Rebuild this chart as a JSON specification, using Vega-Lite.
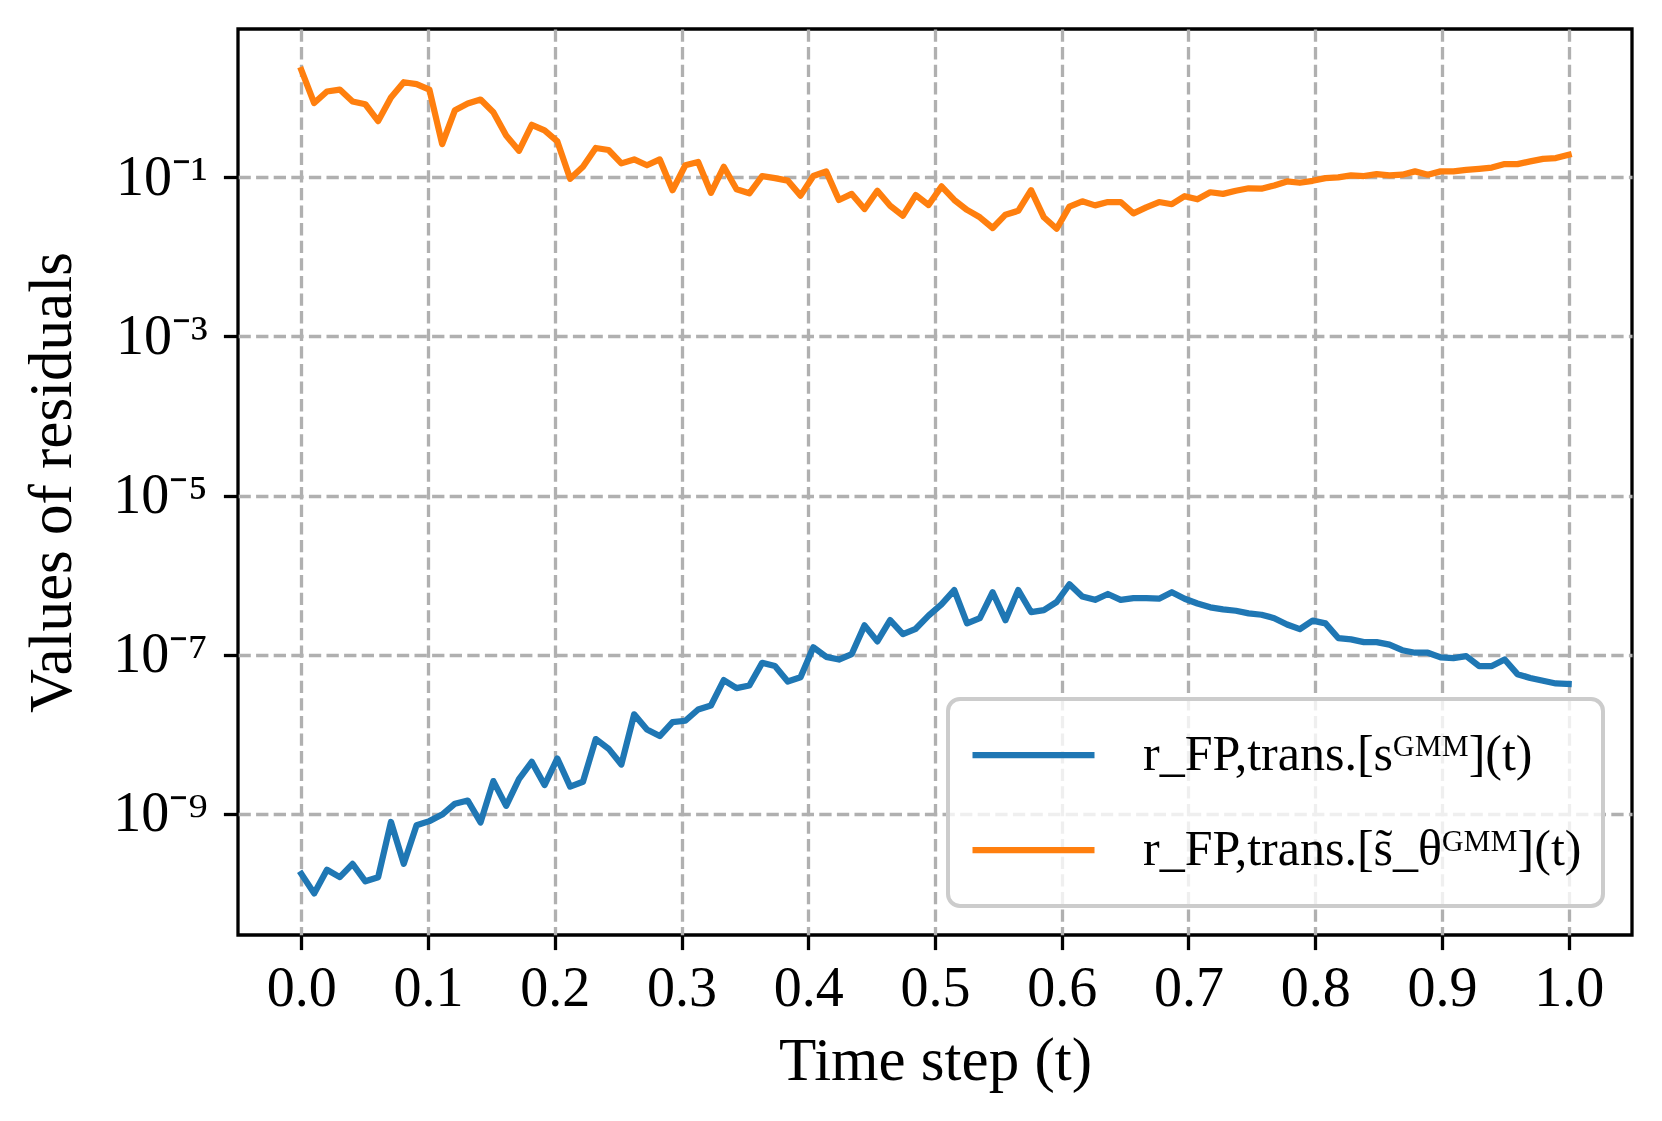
{
  "$schema": "https://vega.github.io/schema/vega-lite/v6.json",
  "width": 1394,
  "height": 906,
  "autosize": {"type": "none"},
  "padding": {"left": 238, "top": 29, "right": 30, "bottom": 186},
  "background": "white",
  "config": {
    "view": {"stroke": "black", "strokeWidth": 3.3},
    "font": "Liberation Serif",
    "axis": {
      "labelFont": "Liberation Serif",
      "labelFontSize": 56,
      "labelColor": "black",
      "labelOverlap": false,
      "titleFont": "Liberation Serif",
      "titleFontSize": 61,
      "titleFontWeight": "normal",
      "titleColor": "black",
      "tickColor": "black",
      "tickWidth": 3.3,
      "tickSize": 14.6,
      "domain": false,
      "gridColor": "#b0b0b0",
      "gridWidth": 3.3,
      "gridDash": [12.3, 5.3],
      "gridOpacity": 1
    }
  },
  "data": {
    "values": [
      {"t": 0.0, "s": 1.76e-10, "s_theta": 2.23},
      {"t": 0.0101, "s": 1.0e-10, "s_theta": 0.86},
      {"t": 0.0202, "s": 1.98e-10, "s_theta": 1.2},
      {"t": 0.0303, "s": 1.6e-10, "s_theta": 1.27},
      {"t": 0.0404, "s": 2.35e-10, "s_theta": 0.9},
      {"t": 0.0505, "s": 1.42e-10, "s_theta": 0.83},
      {"t": 0.0606, "s": 1.6e-10, "s_theta": 0.51},
      {"t": 0.0707, "s": 7.9e-10, "s_theta": 1.01},
      {"t": 0.0808, "s": 2.35e-10, "s_theta": 1.57},
      {"t": 0.0909, "s": 7.2e-10, "s_theta": 1.49},
      {"t": 0.101, "s": 8.1e-10, "s_theta": 1.27},
      {"t": 0.1111, "s": 9.8e-10, "s_theta": 0.262},
      {"t": 0.1212, "s": 1.34e-9, "s_theta": 0.7},
      {"t": 0.1313, "s": 1.47e-9, "s_theta": 0.85},
      {"t": 0.1414, "s": 7.8e-10, "s_theta": 0.95},
      {"t": 0.1515, "s": 2.58e-9, "s_theta": 0.66},
      {"t": 0.1616, "s": 1.26e-9, "s_theta": 0.336},
      {"t": 0.1717, "s": 2.73e-9, "s_theta": 0.216},
      {"t": 0.1818, "s": 4.5e-9, "s_theta": 0.458},
      {"t": 0.1919, "s": 2.3e-9, "s_theta": 0.39},
      {"t": 0.202, "s": 4.97e-9, "s_theta": 0.283},
      {"t": 0.2121, "s": 2.2e-9, "s_theta": 0.096},
      {"t": 0.2222, "s": 2.53e-9, "s_theta": 0.136},
      {"t": 0.2323, "s": 8.7e-9, "s_theta": 0.234},
      {"t": 0.2424, "s": 6.6e-9, "s_theta": 0.221},
      {"t": 0.2525, "s": 4.17e-9, "s_theta": 0.15},
      {"t": 0.2626, "s": 1.78e-8, "s_theta": 0.168},
      {"t": 0.2727, "s": 1.15e-8, "s_theta": 0.142},
      {"t": 0.2828, "s": 9.5e-9, "s_theta": 0.168},
      {"t": 0.2929, "s": 1.42e-8, "s_theta": 0.069},
      {"t": 0.303, "s": 1.48e-8, "s_theta": 0.142},
      {"t": 0.3131, "s": 2.05e-8, "s_theta": 0.156},
      {"t": 0.3232, "s": 2.3e-8, "s_theta": 0.064},
      {"t": 0.3333, "s": 4.8e-8, "s_theta": 0.136},
      {"t": 0.3434, "s": 3.8e-8, "s_theta": 0.071},
      {"t": 0.3535, "s": 4.1e-8, "s_theta": 0.063},
      {"t": 0.3636, "s": 7.9e-8, "s_theta": 0.104},
      {"t": 0.3737, "s": 7.2e-8, "s_theta": 0.098},
      {"t": 0.3838, "s": 4.6e-8, "s_theta": 0.091},
      {"t": 0.3939, "s": 5.2e-8, "s_theta": 0.059},
      {"t": 0.404, "s": 1.24e-7, "s_theta": 0.104},
      {"t": 0.4141, "s": 9.4e-8, "s_theta": 0.119},
      {"t": 0.4242, "s": 8.7e-8, "s_theta": 0.052},
      {"t": 0.4343, "s": 1.02e-7, "s_theta": 0.062},
      {"t": 0.4444, "s": 2.34e-7, "s_theta": 0.04},
      {"t": 0.4545, "s": 1.47e-7, "s_theta": 0.068},
      {"t": 0.4646, "s": 2.72e-7, "s_theta": 0.044},
      {"t": 0.4747, "s": 1.82e-7, "s_theta": 0.033},
      {"t": 0.4848, "s": 2.12e-7, "s_theta": 0.06},
      {"t": 0.4949, "s": 3.1e-7, "s_theta": 0.045},
      {"t": 0.5051, "s": 4.3e-7, "s_theta": 0.077},
      {"t": 0.5152, "s": 6.5e-7, "s_theta": 0.052},
      {"t": 0.5253, "s": 2.48e-7, "s_theta": 0.039},
      {"t": 0.5354, "s": 2.88e-7, "s_theta": 0.0315},
      {"t": 0.5455, "s": 6.1e-7, "s_theta": 0.0231},
      {"t": 0.5556, "s": 2.72e-7, "s_theta": 0.034},
      {"t": 0.5657, "s": 6.5e-7, "s_theta": 0.038},
      {"t": 0.5758, "s": 3.44e-7, "s_theta": 0.069},
      {"t": 0.5859, "s": 3.64e-7, "s_theta": 0.0315},
      {"t": 0.596, "s": 4.6e-7, "s_theta": 0.0226},
      {"t": 0.6061, "s": 7.7e-7, "s_theta": 0.043},
      {"t": 0.6162, "s": 5.4e-7, "s_theta": 0.05},
      {"t": 0.6263, "s": 4.9e-7, "s_theta": 0.0445},
      {"t": 0.6364, "s": 5.8e-7, "s_theta": 0.049},
      {"t": 0.6465, "s": 4.9e-7, "s_theta": 0.049},
      {"t": 0.6566, "s": 5.15e-7, "s_theta": 0.0353},
      {"t": 0.6667, "s": 5.15e-7, "s_theta": 0.042},
      {"t": 0.6768, "s": 5.06e-7, "s_theta": 0.049},
      {"t": 0.6869, "s": 6.1e-7, "s_theta": 0.046},
      {"t": 0.697, "s": 5.06e-7, "s_theta": 0.058},
      {"t": 0.7071, "s": 4.4e-7, "s_theta": 0.053},
      {"t": 0.7172, "s": 3.94e-7, "s_theta": 0.065},
      {"t": 0.7273, "s": 3.72e-7, "s_theta": 0.062},
      {"t": 0.7374, "s": 3.57e-7, "s_theta": 0.068},
      {"t": 0.7475, "s": 3.31e-7, "s_theta": 0.073},
      {"t": 0.7576, "s": 3.18e-7, "s_theta": 0.072},
      {"t": 0.7677, "s": 2.88e-7, "s_theta": 0.079},
      {"t": 0.7778, "s": 2.4e-7, "s_theta": 0.089},
      {"t": 0.7879, "s": 2.1e-7, "s_theta": 0.0856},
      {"t": 0.798, "s": 2.68e-7, "s_theta": 0.0906},
      {"t": 0.8081, "s": 2.48e-7, "s_theta": 0.098},
      {"t": 0.8182, "s": 1.62e-7, "s_theta": 0.1},
      {"t": 0.8283, "s": 1.56e-7, "s_theta": 0.106},
      {"t": 0.8384, "s": 1.44e-7, "s_theta": 0.104},
      {"t": 0.8485, "s": 1.44e-7, "s_theta": 0.11},
      {"t": 0.8586, "s": 1.34e-7, "s_theta": 0.106},
      {"t": 0.8687, "s": 1.14e-7, "s_theta": 0.108},
      {"t": 0.8788, "s": 1.06e-7, "s_theta": 0.119},
      {"t": 0.8889, "s": 1.06e-7, "s_theta": 0.108},
      {"t": 0.899, "s": 9.25e-8, "s_theta": 0.119},
      {"t": 0.9091, "s": 9.06e-8, "s_theta": 0.119},
      {"t": 0.9192, "s": 9.6e-8, "s_theta": 0.124},
      {"t": 0.9293, "s": 7.2e-8, "s_theta": 0.128},
      {"t": 0.9394, "s": 7.2e-8, "s_theta": 0.133},
      {"t": 0.9495, "s": 8.7e-8, "s_theta": 0.147},
      {"t": 0.9596, "s": 5.7e-8, "s_theta": 0.147},
      {"t": 0.9697, "s": 5.1e-8, "s_theta": 0.159},
      {"t": 0.9798, "s": 4.7e-8, "s_theta": 0.171},
      {"t": 0.9899, "s": 4.35e-8, "s_theta": 0.175},
      {"t": 1.0, "s": 4.28e-8, "s_theta": 0.192}
    ]
  },
  "transform": [{"fold": ["s", "s_theta"], "as": ["series", "value"]}],
  "mark": {"type": "line", "strokeWidth": 6.25, "strokeJoin": "round", "strokeCap": "square", "clip": true},
  "encoding": {
    "x": {
      "field": "t",
      "type": "quantitative",
      "scale": {"domain": [-0.05, 1.05], "nice": false, "zero": false},
      "axis": {
        "values": [0, 0.1, 0.2, 0.3, 0.4, 0.5, 0.6, 0.7, 0.8, 0.9, 1.0],
        "format": ".1f",
        "title": "Time step (t)",
        "labelPadding": 12,
        "titlePadding": 15
      }
    },
    "y": {
      "field": "value",
      "type": "quantitative",
      "scale": {"type": "log", "domain": [3.0e-11, 7.33], "nice": false},
      "axis": {
        "values": [1e-9, 1e-7, 1e-5, 1e-3, 1e-1],
        "labelExpr": "datum.value > 0.01 ? '10⁻¹' : datum.value > 1e-4 ? '10⁻³' : datum.value > 1e-6 ? '10⁻⁵' : datum.value > 1e-8 ? '10⁻⁷' : '10⁻⁹'",
        "title": "Values of residuals",
        "labelPadding": 16,
        "titlePadding": 29
      }
    },
    "color": {
      "field": "series",
      "type": "nominal",
      "scale": {"domain": ["s", "s_theta"], "range": ["#1f77b4", "#ff7f0e"]},
      "legend": {
        "title": null,
        "orient": "bottom-right",
        "offset": 29,
        "symbolType": "stroke",
        "symbolSize": 14884,
        "symbolStrokeWidth": 6.25,
        "clipHeight": 70,
        "rowPadding": 25,
        "padding": 21,
        "labelFont": "Liberation Serif",
        "labelFontSize": 50,
        "labelColor": "black",
        "labelOffset": 45,
        "labelLimit": 1000,
        "fillColor": "rgba(255,255,255,0.8)",
        "strokeColor": "#cccccc",
        "cornerRadius": 12,
        "labelExpr": "datum.label == 's' ? 'r_FP,trans.[sᴳᴹᴹ](t)' : 'r_FP,trans.[s̃_θᴳᴹᴹ](t)'",
        "encode": {"legend": {"update": {"strokeWidth": {"value": 4}}}}
      }
    }
  }
}
